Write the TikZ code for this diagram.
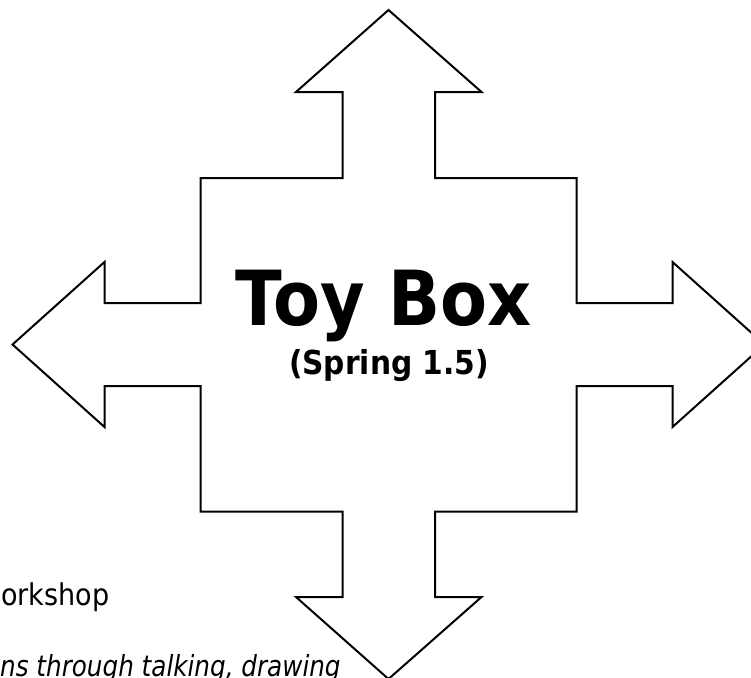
\documentclass[tikz,border=0pt]{standalone}
\usepackage{fontspec}
\setmainfont[FakeStretch=0.9]{DejaVu Sans}
\newfontfamily\narrowsans[FakeStretch=0.85]{DejaVu Sans}
\usepackage{tikz}
\usetikzlibrary{positioning}

\begin{document}
\begin{tikzpicture}[x=1pt, y=-1pt,
    crossc/.style={draw=black, line width=2pt, line join=miter},
    bodyt/.style={inner sep=0pt, anchor=base west, font=\fontsize{30}{34}\selectfont}]
  \useasboundingbox (0,0) rectangle (751,677);
  % four-way arrow
  \draw[crossc] (388.5,10) -- (481.5,92) -- (435,92) -- (435,178)
    -- (576.5,178) -- (576.5,303) -- (672.5,303) -- (672.5,262)
    -- (764.5,344.5) -- (672.5,427) -- (672.5,386) -- (576.5,386)
    -- (576.5,511.5) -- (435,511.5) -- (435,597) -- (481.5,597)
    -- (388.5,679) -- (296,597) -- (342.5,597) -- (342.5,511.5)
    -- (200.5,511.5) -- (200.5,386) -- (104.5,386) -- (104.5,427)
    -- (12.5,344.5) -- (104.5,262) -- (104.5,303) -- (200.5,303)
    -- (200.5,178) -- (342.5,178) -- (342.5,92) -- (296,92) -- cycle;
  \node[inner sep=0pt, anchor=base, font=\bfseries\fontsize{76}{80}\selectfont]
    (title) at (384,325) {Toy Box};
  \node[inner sep=0pt, anchor=base, font=\bfseries\fontsize{33}{38}\selectfont]
    (season) at (389,374) {(Spring 1.5)};
  \node[bodyt] (workshop) at (1,605) {orkshop};
  \node[bodyt, font=\narrowsans\itshape\fontsize{29}{34}\selectfont] (talking) at (0,676)
    {ns through talking, drawing};
\end{tikzpicture}
\end{document}
